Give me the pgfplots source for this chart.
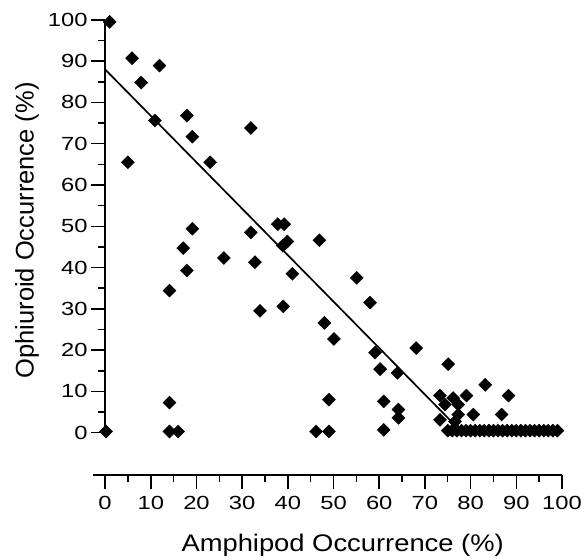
\documentclass[border=0pt]{standalone}
\usepackage{fontspec}
\setmainfont{Liberation Sans}
\usepackage{pgfplots}
\pgfplotsset{compat=1.18}
\begin{document}
\begin{tikzpicture}
\begin{axis}[
  scale only axis, width=457pt, height=413pt,
  xmin=0, xmax=100, ymin=0, ymax=100,
  clip=false,
  axis y line*=left, axis x line*=bottom,
  axis x line shift=42pt,
  axis line style={line width=1.7pt, -},
  x axis line style={shorten <=-12pt},
  tick style={line width=1.5pt, black},
  tick align=outside,
  major tick length=14pt, minor tick length=7pt,
  xtick={0,10,...,100}, ytick={0,10,...,100},
  minor tick num=1,
  ticklabel style={font=\fontsize{19}{19}\selectfont},
  xticklabel style={yshift=-4pt},
  /pgf/number format/assume math mode=true,
  xticklabel={\scalebox{1.25}[1]{\pgfmathprintnumber{\tick}}},
  yticklabel={\scalebox{1.25}[1]{\pgfmathprintnumber{\tick}}},
  xlabel={\scalebox{1.14}[1]{Amphipod Occurrence (\%)}},
  ylabel={Ophiuroid Occurrence (\%)},
  xlabel style={font=\fontsize{24}{24}\selectfont, at={(axis description cs:0.52,-0.272)}, anchor=center},
  ylabel style={font=\fontsize{25.5}{25.5}\selectfont, at={(axis description cs:-0.171,0.49)}, anchor=center},
]
\addplot[only marks, mark=square*, mark size=4.6pt,
  mark options={rotate=45, fill=black, draw=black}] coordinates {
(1,99.5) (5.9,90.7) (7.9,84.8) (11.9,88.9) (10.9,75.6) (5.0,65.5)
(17.9,76.8) (19.1,71.7) (23.0,65.5) (31.9,73.8) (31.9,48.5) (19.1,49.4)
(17.1,44.7) (17.9,39.3) (14.1,34.4) (26.0,42.3) (32.8,41.3) (33.9,29.5)
(14.1,7.3) (14.1,0.3) (16.0,0.3) (0.2,0.3)
(37.8,50.5) (39.2,50.5) (39.9,46.3) (38.9,45.3) (46.9,46.6) (41.0,38.5)
(55.1,37.5) (58.0,31.5) (39.0,30.6) (48.0,26.6) (50.1,22.7)
(46.2,0.3) (49.0,0.3) (49.0,8.0)
(68.1,20.5) (59.1,19.4) (60.2,15.4) (64.0,14.5) (75.1,16.6)
(61.0,7.6) (64.2,5.6) (64.2,3.6) (61.0,0.7)
(83.2,11.6) (88.3,9.0) (73.3,9.0) (76.2,8.4) (79.1,9.0)
(74.4,6.8) (77.3,6.8) (73.3,3.1) (77.3,4.4) (80.6,4.4) (86.8,4.4) (76.6,2.7)
(75,0.5) (76,0.5) (77,0.5) (78,0.5) (79,0.5) (80,0.5) (81,0.5) (82,0.5)
(83,0.5) (84,0.5) (85,0.5) (86,0.5) (87,0.5) (88,0.5) (89,0.5) (90,0.5)
(91,0.5) (92,0.5) (93,0.5) (94,0.5) (95,0.5) (96,0.5) (97,0.5) (98,0.5) (99,0.5)
};
\addplot[black, line width=1.7pt] coordinates {(0,88) (76,2.5)};
\path (axis cs:-23,-29.5) rectangle (axis cs:105.7,104.8);
\end{axis}
\end{tikzpicture}
\end{document}
